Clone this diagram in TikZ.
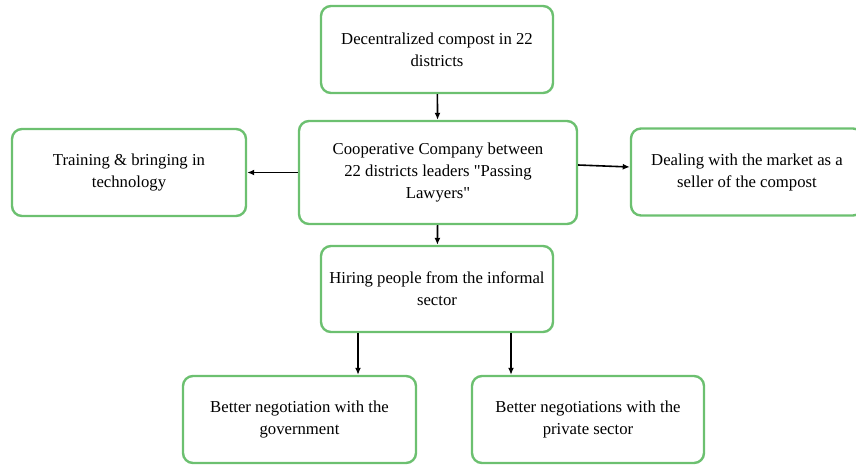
\documentclass[tikz,border=0pt]{standalone}
\usepackage{fontspec}
\setmainfont{Liberation Serif}[Ligatures=TeXOff]
\usetikzlibrary{arrows.meta}
\definecolor{boxgreen}{RGB}{108,192,112}
\begin{document}
\begin{tikzpicture}[x=1pt,y=-1pt,>={Latex[length=7pt,width=6pt]}]
\tikzstyle{every node}=[draw=boxgreen,line width=2.4pt,rounded corners=10pt,align=center,minimum width=232pt,minimum height=87pt,font=\fontsize{16.7}{22}\selectfont]
\useasboundingbox (0,0) rectangle (856,466);
\node(c0) at (437,49.5) {Decentralized compost in 22\\districts};
\node[minimum width=278pt,minimum height=103pt](c1) at (438,172.5) {Cooperative Company between\\22 districts leaders "Passing\\Lawyers"};
\node[minimum width=234pt](c2) at (129,172.5) {Training \& bringing in\\technology};
\node(c3) at (747,172) {Dealing with the market as a\\seller of the compost};
\node[minimum height=86pt](c4) at (437,289) {Hiring people from the informal\\sector};
\node[minimum width=233pt](c5) at (299.5,419.5) {Better negotiation with the\\government};
\node(c6) at (588,419.5) {Better negotiations with the\\private sector};
\draw[->,line width=1.6pt] (c0) -- (c1);
\draw[->,line width=1.6pt] (c1) -- (c2);
\draw[->,line width=1.6pt] (c1.east |- 0,165) -- (c3.west |- 0,167);
\draw[->,line width=1.6pt] (c1) -- (c4);
\draw[->,line width=1.6pt] (c4.south -| 358,0) -- (c5.north -| 358,0);
\draw[->,line width=1.6pt] (c4.south -| 511,0) -- (c6.north -| 511,0);
\end{tikzpicture}
\end{document}
